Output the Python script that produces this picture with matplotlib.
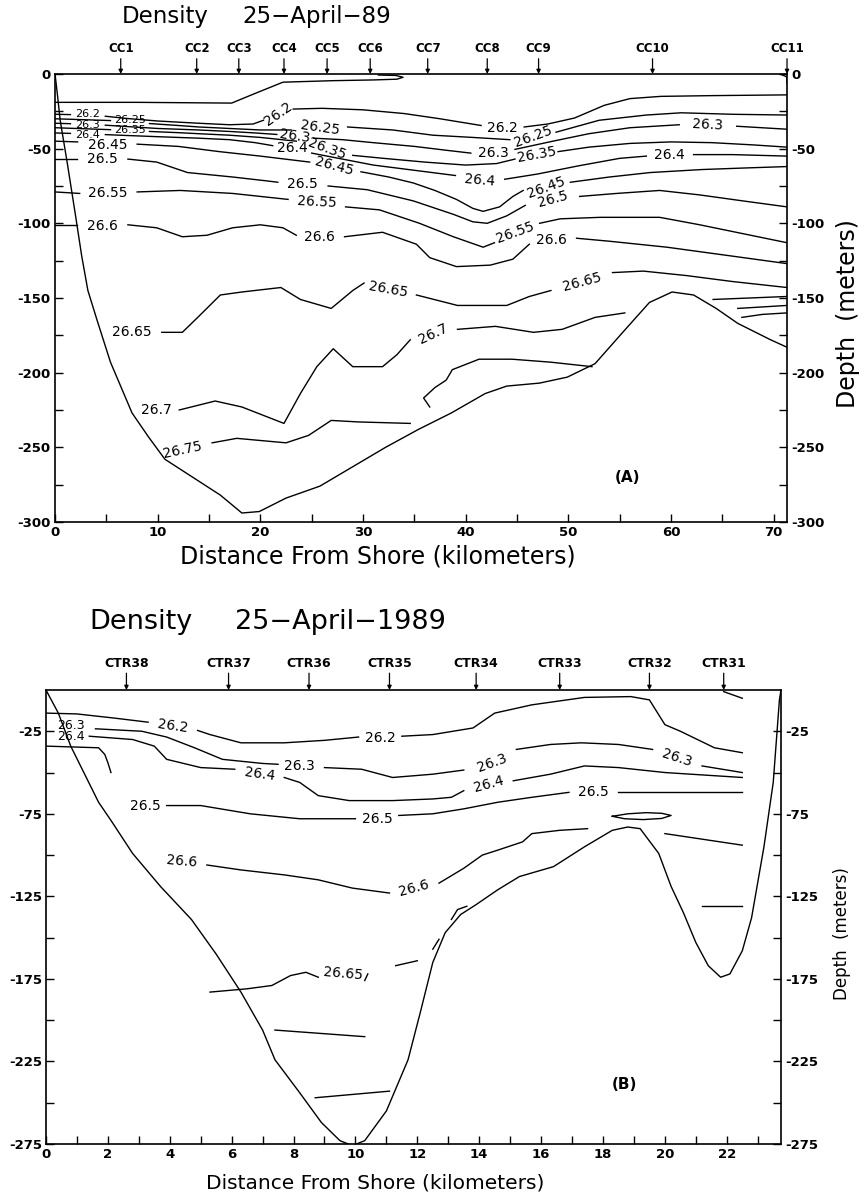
import matplotlib
matplotlib.use("Agg")
import matplotlib.pyplot as plt
from matplotlib.ticker import MultipleLocator, FixedLocator, FuncFormatter

plt.rcParams['font.family'] = ['DejaVu Sans']
plt.rcParams['axes.unicode_minus'] = False

# ================= Panel (A): Density 25-April-89, CC line =================
a_station_names = ["CC1", "CC2", "CC3", "CC4", "CC5", "CC6", "CC7", "CC8", "CC9", "CC10", "CC11"]
a_station_km = [6.4, 13.8, 17.9, 22.3, 26.5, 30.7, 36.3, 42.1, 47.1, 58.2, 71.3]

a_bottom_km = [0, 0.25, 0.5, 1.2, 2.0, 2.6, 3.2, 4.1, 5.4, 7.5, 9.1, 10.7, 13.4, 16.1, 18.2, 19.9,
               22.5, 25.8, 29.0, 32.2, 35.4, 38.6, 41.9, 44.0, 47.2, 49.9, 52.6, 55.3, 57.9, 60.1,
               62.2, 64.4, 66.5, 69.7, 71.3]
a_bottom_m = [0, -15, -31, -60, -95, -122, -145, -165, -193, -227, -243, -258, -270, -282, -294, -293,
              -284, -276, -263, -250, -238, -227, -214, -209, -207, -203, -194, -173, -153, -146,
              -148, -157, -167, -178, -183]

# contour segments (km, depth m) per density level
a_2610 = [[(0, -19), (8, -19), (17.2, -19.5), (19.5, -13), (22.2, -5.5), (27, -4.5), (31, -4),
           (33.3, -3.5), (33.9, -2.2), (33.2, -1.0), (31.5, -0.7)],
          [(70.6, 0), (71.3, -2), (71.3, -6)]]
a_2620 = [[(0, -27), (1.5, -27.2)],
          [(4.9, -28.3), (7, -29.8), (10, -31.5), (14, -33), (17, -34), (19.3, -33.5), (20.3, -31)],
          [(23.2, -23.5), (26, -23), (30, -24), (34, -26.5), (37.5, -30), (41.5, -34.5)],
          [(45.7, -35.5), (48, -33.5), (50.6, -29.5), (53.5, -21), (56, -16.5), (59, -15), (64, -14.5), (71.3, -14)]]
a_2625 = [[(0, -30), (5.4, -31.2)],
          [(9.2, -33.2), (12, -34.5), (14, -35.5), (17, -36.5), (20, -37.5), (23, -37.5)],
          [(28.5, -35.5), (32.9, -37.5), (36.8, -41), (40.7, -42.5), (44.3, -44)],
          [(48.8, -39), (53, -31), (57.6, -27.5), (61, -26), (66, -27), (71.3, -27.5)]]
a_2630 = [[(0, -33), (1.5, -33.3)],
          [(4.9, -34.3), (7, -35.2), (10, -36.5), (14, -37.5), (17, -38.5), (19.5, -39.5), (21.6, -40.5)],
          [(25.2, -43), (28, -44), (31, -46), (35, -48.5), (38, -51), (40.5, -53)],
          [(44.8, -50.5), (48.5, -45), (52, -40), (56, -36), (60.8, -34)],
          [(66.4, -35), (71.3, -37)]]
a_2635 = [[(0, -36), (5.4, -37.3)],
          [(9.2, -38.5), (12, -39.3), (14, -40), (17, -41), (20, -42.5), (23.5, -45)],
          [(29, -54.5), (32, -56.5), (36, -59), (40, -61), (43, -60), (44.8, -57)],
          [(49, -52), (52, -49), (56, -46.5), (60, -45.5), (64, -46), (68, -47.5), (71.3, -49)]]
a_2640 = [[(0, -39.5), (1.5, -39.8)],
          [(4.9, -40.6), (7, -41.2), (10, -42), (14, -43), (17, -44), (19.5, -46), (21.2, -48)],
          [(25, -53), (28, -57), (31, -61), (35, -64.5), (39, -68)],
          [(43.8, -70.5), (47, -67), (51, -61.5), (55, -56.5), (57.6, -55)],
          [(62.2, -54), (66, -54), (71.3, -55)]]
a_2645 = [[(0, -45), (2.2, -45.5)],
          [(8, -47), (12, -48.5), (16, -52), (20, -55), (23, -57.5), (24.8, -59)],
          [(29.8, -65.5), (32.5, -69), (34.9, -73), (37, -78), (39.1, -84), (40.7, -90), (41.7, -92),
           (43.3, -89), (44.6, -82), (45.6, -78)],
          [(50.2, -72.5), (54, -69), (58, -66), (63, -64), (67, -63), (71.3, -62)]]
a_2650 = [[(0, -57), (2.1, -57)],
          [(7.1, -57), (9.9, -59), (12.9, -66), (17.3, -69), (20.5, -71.5), (21.7, -72.5)],
          [(26.6, -75), (30.4, -77.5), (34.9, -85), (38.8, -94), (40.7, -99), (42.1, -100), (44, -95), (45.8, -88)],
          [(51.1, -82), (54.7, -80), (58.9, -78), (62.8, -81), (67, -85), (71.3, -89)]]
a_2655 = [[(0, -79), (2.4, -80)],
          [(8, -79), (12.2, -78), (17.3, -80), (22.7, -84)],
          [(28.3, -89), (31.6, -91), (35.5, -100), (38.8, -109), (41.7, -116), (42.8, -113)],
          [(47.2, -100), (49.2, -97), (53.1, -96), (58.9, -96), (62.8, -101), (71.3, -113)]]
a_2660 = [[(0, -101), (2.1, -101)],
          [(7.1, -101), (9.9, -103), (12.4, -109), (14.8, -108), (17.3, -103), (20, -101), (22.2, -103), (23.5, -108)],
          [(28.2, -109), (31.9, -106), (35.2, -114), (36.5, -123), (39.1, -129), (42.4, -128), (44.6, -124), (46.2, -114)],
          [(50.8, -110), (54, -112), (59.6, -116), (66, -122), (71.3, -127)]]
a_2665 = [[(10.4, -173), (12.4, -173), (13.9, -163), (16.1, -148), (18.2, -146), (22, -143), (23.9, -151),
           (26.9, -157), (29, -145), (30.1, -140)],
          [(35.2, -148), (39.2, -155), (44, -155), (46.2, -149), (48.3, -145)],
          [(54.3, -133), (57.3, -132), (61.5, -135), (66, -139), (71.3, -143)]]
a_2670 = [[(12.1, -225), (15.6, -219), (18.2, -223), (22.3, -234), (23.9, -214), (25.5, -196), (27.1, -184),
           (29, -196), (31.9, -196), (33.3, -188), (34.6, -178)],
          [(39.2, -171), (42.9, -169), (46.6, -173), (49.4, -171), (52.6, -163), (55.5, -160)],
          [(36.5, -223), (35.9, -217), (37, -210), (38.1, -205), (38.7, -198), (41.3, -191), (44.5, -191),
           (48.3, -193), (52.3, -196)],
          [(64.1, -151), (71.3, -149)],
          [(66.5, -157), (71.3, -155)],
          [(66.9, -163), (68.9, -161), (71.3, -160)]]
a_2675 = [[(15.3, -247), (17.7, -244), (22.5, -247), (24.7, -242), (26.9, -232), (29.5, -233), (34.6, -234)]]

# (text, km, depth, rotation, fontsize)
a_labels = [("26.2", 3.2, -27, 0, 8), ("26.25", 7.3, -30.5, 0, 8), ("26.3", 3.2, -34, 0, 8),
            ("26.35", 7.3, -37.5, 0, 8), ("26.4", 3.2, -41, 0, 8), ("26.45", 5.1, -47.5, 0, 10),
            ("26.5", 4.6, -57, 0, 10), ("26.55", 5.1, -80, 0, 10), ("26.6", 4.6, -102, 0, 10),
            ("26.2", 21.7, -27, 35, 10), ("26.25", 25.8, -36, -8, 10), ("26.3", 23.4, -41.5, -8, 10),
            ("26.4", 23.1, -49.5, 0, 10), ("26.35", 26.5, -50, -20, 10), ("26.45", 27.2, -62, -15, 10),
            ("26.5", 24.1, -74, 0, 10), ("26.55", 25.5, -86, -3, 10), ("26.6", 25.8, -109, 0, 10),
            ("26.2", 43.6, -36, 0, 10), ("26.25", 46.6, -42, 20, 10), ("26.3", 42.7, -53, 0, 10),
            ("26.35", 46.9, -54, 10, 10), ("26.4", 41.4, -71, -5, 10), ("26.45", 47.8, -76, 20, 10),
            ("26.5", 48.5, -84, 15, 10), ("26.55", 44.8, -106, 20, 10), ("26.6", 48.4, -111, 0, 10),
            ("26.3", 63.6, -34, -3, 10), ("26.4", 59.8, -54, 0, 10),
            ("26.65", 7.5, -173, 0, 10), ("26.65", 32.5, -144, -10, 10), ("26.65", 51.3, -139, 15, 10),
            ("26.7", 9.9, -225, 0, 10), ("26.7", 36.8, -174, 25, 10), ("26.75", 12.4, -252, 12, 10)]

# ================= Panel (B): Density 25-April-1989, CTR line =================
b_station_names = ["CTR38", "CTR37", "CTR36", "CTR35", "CTR34", "CTR33", "CTR32", "CTR31"]
b_station_km = [2.6, 5.9, 8.5, 11.1, 13.9, 16.6, 19.5, 21.9]

b_bottom_km = [0, 0.4, 0.8, 1.7, 2.1, 2.8, 3.7, 4.7, 5.5, 6.3, 7.0, 7.4, 8.2, 8.9, 9.5, 9.9, 10.3,
               11.0, 11.7, 12.1, 12.5, 12.9, 13.4, 13.9, 14.6, 15.3, 16.4, 17.4, 18.3, 18.8, 19.2,
               19.8, 20.2, 20.6, 21.0, 21.4, 21.8, 22.1, 22.5, 22.8, 23.2, 23.5, 23.7, 23.75]
b_bottom_m = [0, -14, -34, -68, -79, -99, -119, -139, -160, -183, -206, -224, -244, -262, -273, -276, -273,
              -255, -224, -195, -165, -147, -136, -130, -121, -113, -107, -95, -85, -83, -84,
              -99, -119, -135, -153, -167, -174, -172, -158, -138, -95, -56, -6, 0]

b_2620 = [[(0, -14), (1.0, -14.5), (2.2, -17), (3.3, -19.5)],
          [(4.9, -24.5), (5.3, -27), (6.3, -32), (7.7, -32), (9, -30.5), (10.1, -28.5)],
          [(11.5, -28), (12.5, -27), (13.8, -23), (14.5, -14), (15.7, -9), (17.4, -4.5), (18.9, -4),
           (19.5, -6), (20.0, -21), (20.5, -25), (21.6, -35), (22.5, -38)],
          [(21.9, -1), (22.5, -5)]]
b_2630 = [[(1.6, -23.5), (3.1, -25), (3.9, -28.5), (4.8, -35), (5.7, -42), (7.0, -44.5), (7.5, -45)],
          [(9.0, -47), (10.2, -48), (11.2, -53), (12.5, -51), (13.5, -48.5)],
          [(15.2, -36), (16.3, -33), (17.3, -32), (18.5, -33), (19.6, -36)],
          [(21.2, -46), (22.5, -50)]]
b_2640 = [[(1.4, -28), (2.8, -30), (3.5, -34), (3.9, -42), (5.0, -47), (6.1, -48)],
          [(7.7, -53), (8.2, -56), (8.8, -64), (9.8, -67), (11.2, -67), (12.5, -66), (13.1, -65), (13.5, -61)],
          [(15.1, -55), (16.3, -51), (17.4, -46), (18.5, -47), (20.0, -50), (22.5, -53)]]
b_2650 = [[(0, -34), (1.7, -35), (1.9, -39), (2.0, -44), (2.1, -50)],
          [(3.9, -70), (5.0, -70), (6.6, -75), (8.2, -78), (10.0, -78)],
          [(11.4, -76), (12.5, -75), (13.5, -72), (14.6, -68), (15.7, -65), (16.9, -62)],
          [(18.5, -62), (20.5, -62), (22.5, -62)],
          [(18.3, -76.5), (18.8, -75), (19.4, -74.3), (19.9, -74.7), (20.2, -76), (19.9, -77.8),
           (19.3, -78.5), (18.7, -78), (18.3, -76.5)]]
b_2660 = [[(5.2, -106), (6.3, -109), (7.7, -112), (8.8, -115), (9.9, -120), (11.1, -123)],
          [(12.7, -117), (13.5, -108), (14.1, -100), (14.6, -97), (15.4, -92), (15.7, -87), (16.6, -85), (17.5, -84)],
          [(20.0, -87), (22.5, -94)]]
b_2665 = [[(5.3, -183), (6.5, -181), (7.3, -179), (7.9, -173), (8.4, -171), (8.8, -174)],
          [(10.3, -176), (10.4, -172)],
          [(11.3, -167), (12.0, -164)],
          [(12.5, -157), (12.7, -151)],
          [(13.1, -139), (13.3, -133), (13.6, -131)],
          [(21.2, -131), (22.5, -131)]]
b_2670 = [[(7.4, -206), (10.3, -210)],
          [(8.7, -247), (11.1, -243)]]

b_labels = [("26.3", 0.8, -21.5, 0, 9), ("26.4", 0.8, -28, 0, 9), ("26.2", 4.1, -22, -8, 10),
            ("26.2", 10.8, -29, 0, 10), ("26.3", 8.2, -46, 0, 10), ("26.4", 6.9, -51, -8, 10),
            ("26.5", 3.2, -70, 0, 10), ("26.5", 10.7, -78, 0, 10), ("26.6", 4.4, -104, -5, 10),
            ("26.6", 11.9, -120, 15, 10), ("26.3", 14.4, -44, 20, 10), ("26.4", 14.3, -57, 15, 10),
            ("26.5", 17.7, -62, 0, 10), ("26.3", 20.4, -41, -18, 10), ("26.65", 9.6, -172, -5, 10)]

# ================= Figure =================
fig = plt.figure(figsize=(8.64, 11.95), dpi=100)
axA = fig.add_axes([0.0637, 0.5632, 0.8472, 0.3749])
axB = fig.add_axes([0.0532, 0.0427, 0.8507, 0.3799])


def draw_segments(ax, level_sets):
    for level in level_sets:
        for seg in level:
            xs = [p[0] for p in seg]
            ys = [p[1] for p in seg]
            ax.plot(xs, ys, color='black', lw=1.0, solid_joinstyle='round')


def draw_labels(ax, labels):
    for txt, x, d, rot, size in labels:
        ax.text(x, d, txt, ha='center', va='center', rotation=rot, fontsize=size,
                rotation_mode='anchor', color='black')


def stations(ax, names, kms, tail, lab_y, size):
    for n, k in zip(names, kms):
        ax.annotate('', xy=(k, 1.0), xycoords=('data', 'axes fraction'),
                    xytext=(k, tail), textcoords=('data', 'axes fraction'),
                    arrowprops=dict(arrowstyle='-|>', lw=0.9, color='black',
                                    mutation_scale=6, shrinkA=0, shrinkB=0),
                    annotation_clip=False)
        ax.text(k, lab_y, n, transform=ax.get_xaxis_transform(), ha='center', va='bottom',
                fontsize=size, fontweight='bold', clip_on=False)


def style_axes(ax):
    for s in ax.spines.values():
        s.set_linewidth(1.2)
    ax.tick_params(which='both', direction='in', top=False, right=True, left=True, bottom=True,
                   labelright=True, labelleft=True, width=1.0)
    ax.tick_params(which='major', length=6)
    ax.tick_params(which='minor', length=6)
    for lab in ax.get_xticklabels() + ax.get_yticklabels():
        lab.set_fontweight('bold')


# ---- Panel A ----
axA.plot(a_bottom_km, a_bottom_m, color='black', lw=1.0)
draw_segments(axA, [a_2610, a_2620, a_2625, a_2630, a_2635, a_2640, a_2645, a_2650, a_2655,
                    a_2660, a_2665, a_2670, a_2675])
draw_labels(axA, a_labels)
axA.set_xlim(0, 71.3)
axA.set_ylim(-300, 0)
axA.xaxis.set_major_locator(MultipleLocator(10))
axA.xaxis.set_minor_locator(MultipleLocator(5))
axA.yaxis.set_major_locator(MultipleLocator(50))
axA.yaxis.set_minor_locator(MultipleLocator(25))
axA.xaxis.set_major_formatter(FuncFormatter(lambda v, p: f"{v:g}"))
axA.yaxis.set_major_formatter(FuncFormatter(lambda v, p: f"{v:g}"))
axA.tick_params(axis='both', labelsize=9.5, pad=3)
style_axes(axA)
stations(axA, a_station_names, a_station_km, 1.034, 1.042, 8.5)
axA.text(55.8, -270, "(A)", ha='center', va='center', fontsize=11, fontweight='bold')

fig.text(0.141, 0.9858, "Density", ha='left', va='center', fontsize=16.5)
fig.text(0.281, 0.9858, "25\u2212April\u221289", ha='left', va='center', fontsize=16.5)
fig.text(0.437, 0.534, "Distance From Shore (kilometers)", ha='center', va='center', fontsize=17)
fig.text(0.981, 0.738, "Depth  (meters)", ha='center', va='center', fontsize=17, rotation=90)

# ---- Panel B ----
axB.plot(b_bottom_km, b_bottom_m, color='black', lw=1.0)
draw_segments(axB, [b_2620, b_2630, b_2640, b_2650, b_2660, b_2665, b_2670])
draw_labels(axB, b_labels)
axB.set_xlim(0, 23.75)
axB.set_ylim(-275, 0)
axB.xaxis.set_major_locator(MultipleLocator(2))
axB.xaxis.set_minor_locator(MultipleLocator(1))
axB.yaxis.set_major_locator(FixedLocator([-25, -75, -125, -175, -225, -275]))
axB.yaxis.set_minor_locator(FixedLocator([-50, -100, -150, -200, -250]))
axB.xaxis.set_major_formatter(FuncFormatter(lambda v, p: f"{v:g}"))
axB.yaxis.set_major_formatter(FuncFormatter(lambda v, p: f"{v:g}"))
axB.tick_params(axis='both', labelsize=9.5, pad=3)
style_axes(axB)
stations(axB, b_station_names, b_station_km, 1.037, 1.044, 9)
axB.text(18.7, -239, "(B)", ha='center', va='center', fontsize=11, fontweight='bold')

fig.text(0.104, 0.4795, "Density", ha='left', va='center', fontsize=19.5)
fig.text(0.272, 0.4795, "25\u2212April\u22121989", ha='left', va='center', fontsize=19.5)
fig.text(0.434, 0.0100, "Distance From Shore (kilometers)", ha='center', va='center', fontsize=14.5)
fig.text(0.975, 0.219, "Depth  (meters)", ha='center', va='center', fontsize=12, rotation=90)

fig.savefig("out.png", dpi=100)
